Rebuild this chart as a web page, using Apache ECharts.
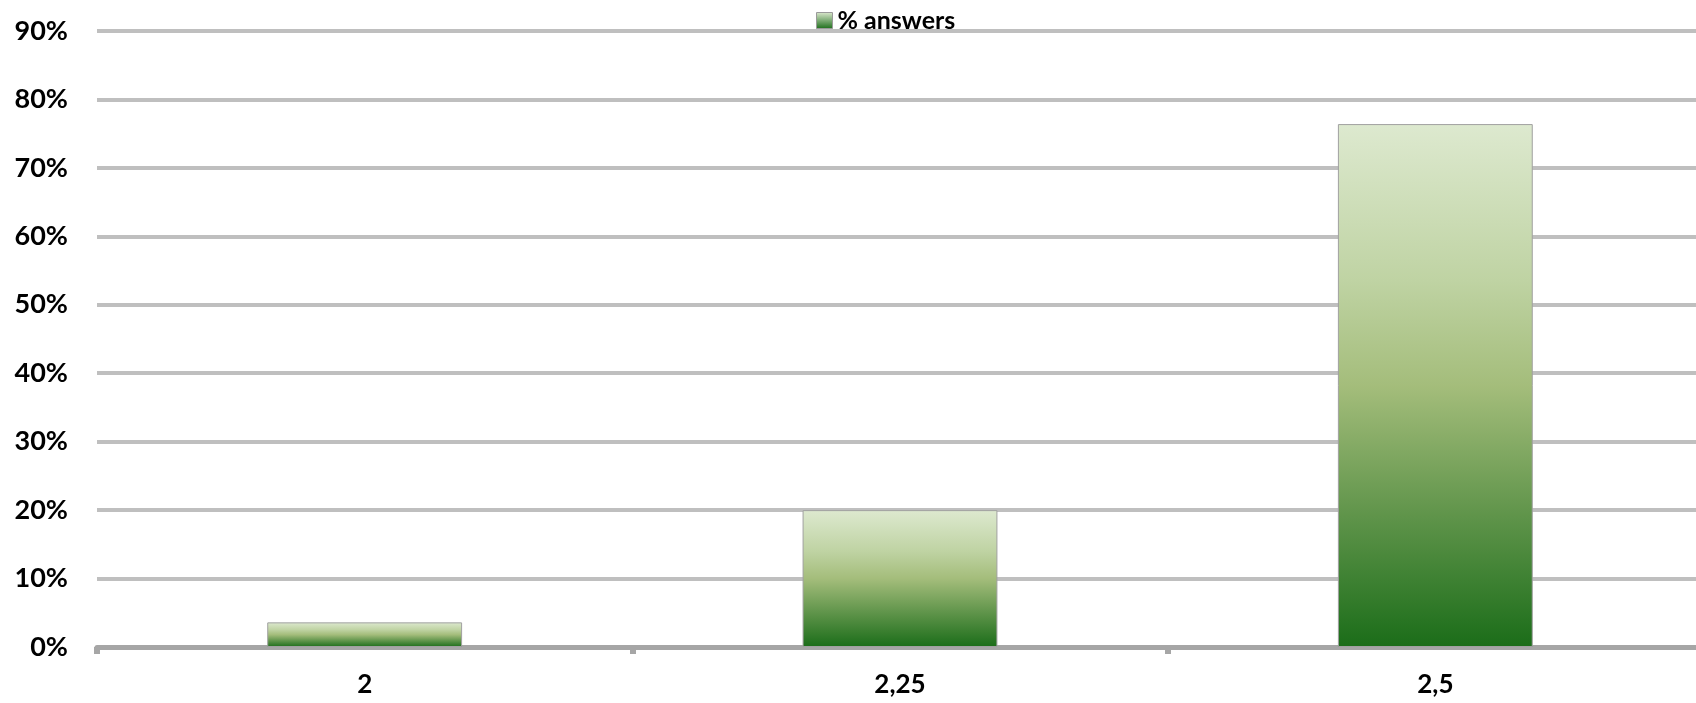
<!DOCTYPE html>
<html>
<head>
<meta charset="utf-8">
<script src="https://cdn.jsdelivr.net/npm/echarts@6/dist/echarts.min.js"></script>
<style>html,body{margin:0;padding:0;background:#fff}#c{width:1696px;height:703px}</style>
</head>
<body>
<div id="c"></div>
<script>
const categories = ['2', '2,25', '2,5'];
const seriesName = '% answers';
const answers = [3.6, 20.0, 76.4];
const yTicks = { min: 0, max: 90, interval: 10 };

const chart = echarts.init(document.getElementById('c'), null, {renderer: 'canvas'});
const grad = new echarts.graphic.LinearGradient(0, 0, 0, 1, [
  {offset: 0, color: '#dde9cf'},
  {offset: 0.3, color: '#bfd3a3'},
  {offset: 0.5, color: '#a4bd7b'},
  {offset: 0.75, color: '#5f944a'},
  {offset: 1, color: '#1b6d19'}
]);
chart.setOption({
  animation: false,
  textStyle: {fontFamily: 'Lato', fontWeight: 'bold', color: '#000'},
  legend: {
    left: 811, top: 3,
    itemWidth: 16, itemHeight: 16, itemGap: 6,
    textStyle: {fontFamily: 'Lato', fontWeight: 'bold', fontSize: 25, color: '#000'},
    data: [{name: seriesName, icon: 'rect', itemStyle: {color: new echarts.graphic.LinearGradient(0,0,0,1,[{offset:0,color:'#dde9cf'},{offset:1,color:'#1b6d19'}]), borderColor: '#9a9a9a', borderWidth: 1}}]
  },
  grid: {left: 97, width: 1606, top: 31, bottom: 56, containLabel: false, outerBoundsMode: 'none'},
  xAxis: {
    type: 'category', data: categories, boundaryGap: true,
    axisLine: {lineStyle: {color: '#a6a6a6', width: 5}},
    axisTick: {show: true, length: 7, lineStyle: {color: '#a6a6a6', width: 6}},
    axisLabel: {fontFamily: 'Lato', fontWeight: 'bold', fontSize: 26, color: '#000', margin: 25}
  },
  yAxis: {
    type: 'value', min: yTicks.min, max: yTicks.max, interval: yTicks.interval,
    axisLine: {show: false}, axisTick: {show: false},
    splitLine: {lineStyle: {color: '#bfbfbf', width: 4}},
    axisLabel: {formatter: '{value}%', fontFamily: 'Lato', fontWeight: 'bold', fontSize: 27, color: '#000', margin: 29}
  },
  series: [{
    name: seriesName, type: 'bar', data: answers, barWidth: '36.4%',
    itemStyle: {color: grad, borderColor: '#a0a0a0', borderWidth: 1}
  }]
});
</script>
</body>
</html>
